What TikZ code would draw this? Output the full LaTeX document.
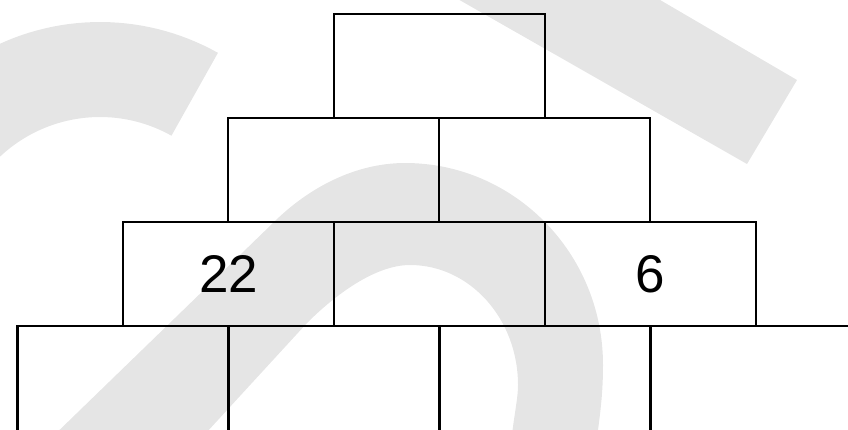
\documentclass[tikz,border=0pt]{standalone}
\usepackage{fontspec}
\setmainfont{Liberation Sans}
\definecolor{wmgray}{HTML}{E5E5E5}
\begin{document}
\begin{tikzpicture}[x=1pt,y=-1pt,
  brick/.style={draw=black, line width=2.6pt, minimum width=211pt, minimum height=104pt, inner sep=0pt, font=\fontsize{53}{53}\selectfont},
  basebrick/.style={brick, minimum height=108pt},
  wm/.style={fill=wmgray}]
\useasboundingbox (0,0) rectangle (848,429);
\clip (0,0) rectangle (848,429);
% watermark shapes
\fill[wm] plot[domain=155:60.7, samples=50] ({100+241*cos(\x)},{263-241*sin(\x)})
  -- plot[domain=60.7:155, samples=50] ({100+146*cos(\x)},{263-146*sin(\x)}) -- cycle;
\fill[wm] (44,445) -- (273,223) .. controls (308,188) and (355,163) .. (405,163)
  .. controls (514,163) and (603,253) .. (603,365)
  .. controls (603,395) and (600,415) .. (596,445)
  -- (511,445) .. controls (513,420) and (518,400) .. (518,385)
  .. controls (518,319) and (470,265) .. (410,265)
  .. controls (375,265) and (335,295) .. (307,323) -- (195,445) -- cycle;
\fill[wm] (442,-10) -- (643,-10) -- (797,80) -- (747,164) -- cycle;
% pyramid
\node[brick] (r0c0) at (439.5,66) {};
\node[brick] (r1c0) at (333.5,170) {};
\node[brick] (r1c1) at (544.5,170) {};
\node[brick] (r2c0) at (228.5,274) {22};
\node[brick] (r2c1) at (439.5,274) {};
\node[brick] (r2c2) at (650.5,274) {6};
\node[basebrick] (r3c0) at (123,380) {};
\node[basebrick] (r3c1) at (334,380) {};
\node[basebrick] (r3c2) at (545,380) {};
\node[basebrick] (r3c3) at (756,380) {};
\end{tikzpicture}
\end{document}
